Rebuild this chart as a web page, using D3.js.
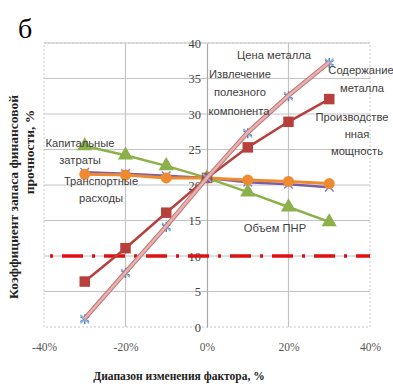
<!doctype html>
<html>
<head>
<meta charset="utf-8">
<style>
  body { margin: 0; background: #fff; }
  .lbl { font-family: "Liberation Sans", Arial, sans-serif; font-size: 11.2px; fill: #404040; }
</style>
<script src="https://cdn.jsdelivr.net/npm/d3@7"></script>
</head>
<body>
<svg width="393" height="387"></svg>
<script>
// values
var factors   = [-30, -20, -10, 0, 10, 20, 30];
var capex     = [25.5, 24.2, 22.7, 21, 19.0, 16.9, 14.8];
var transport = [21.5, 21.4, 21.0, 21, 20.7, 20.5, 20.2];
var volumePNR = [21.8, 21.6, 21.3, 21, 20.4, 20.1, 19.7];
var capacity  = [6.4, 11.1, 16.1, 21, 25.3, 28.9, 32.1];
var price     = [1.1, 7.6, 14.1, 21, 27.3, 32.5, 37.2];
var recovery  = [1.2, 7.7, 14.2, 21, 27.4, 32.6, 37.3];
var threshold = 10;
var xTicks = [-40, -20, 0, 20, 40];
var yTicks = [0, 5, 10, 15, 20, 25, 30, 35, 40];

var serif = "'Liberation Serif', 'Times New Roman', serif";

var svg = d3.select("svg");
var x = d3.scaleLinear().domain([-40, 40]).range([44, 370]);
var y = d3.scaleLinear().domain([0, 40]).range([327, 43]);

svg.append("text").attr("x", 18).attr("y", 38)
  .style("font-family", serif).style("font-size", "28px").text("б");

// grid
var grid = svg.append("g");
grid.selectAll(".h").data(yTicks.slice(1)).enter().append("line")
  .attr("x1", x(-40)).attr("x2", x(40))
  .attr("y1", function(d){ return y(d); }).attr("y2", function(d){ return y(d); })
  .attr("stroke", "#c4c4c4").attr("stroke-width", 1);
grid.selectAll(".v").data([-20, 20]).enter().append("line")
  .attr("x1", function(d){ return x(d); }).attr("x2", function(d){ return x(d); })
  .attr("y1", y(0)).attr("y2", y(40))
  .attr("stroke", "#c4c4c4").attr("stroke-width", 1.2);
grid.append("rect").attr("x", x(-40)).attr("y", y(40))
  .attr("width", x(40) - x(-40)).attr("height", y(0) - y(40))
  .attr("fill", "none").attr("stroke", "#c8c8c8").attr("stroke-dasharray", "2,2");

// axes
var xAxis = svg.append("g")
  .attr("transform", "translate(0," + y(0) + ")")
  .call(d3.axisBottom(x).tickValues(xTicks).tickSize(0).tickPadding(16)
    .tickFormat(function(d){ return d + "%"; }));
xAxis.select(".domain").remove();
xAxis.selectAll("text").style("font-family", serif).style("font-size", "11.5px").attr("fill", "#555");

var yAxis = svg.append("g")
  .attr("transform", "translate(" + x(0) + ",0)")
  .call(d3.axisLeft(y).tickValues(yTicks).tickSize(0).tickPadding(6));
yAxis.select(".domain").attr("stroke", "#a8a8a8").attr("stroke-width", 1.2);
yAxis.selectAll("text").style("font-family", serif).style("font-size", "12.5px").attr("fill", "#444");

// threshold line
svg.append("line").attr("x1", x(-40)).attr("x2", x(40))
  .attr("y1", y(threshold)).attr("y2", y(threshold))
  .attr("stroke", "#e01010").attr("stroke-width", 3.5)
  .attr("stroke-dasharray", "21,9,3,9").attr("stroke-dashoffset", 24);

var line = d3.line()
  .x(function(d, i){ return x(factors[i]); })
  .y(function(d){ return y(d); });

function series(vals, color, width) {
  svg.append("path").datum(vals).attr("d", line)
    .attr("fill", "none").attr("stroke", color).attr("stroke-width", width);
}
function markers(vals, sym, size, color, stroke) {
  svg.append("g").selectAll("path").data(vals).enter().append("path")
    .attr("transform", function(d, i){ return "translate(" + x(factors[i]) + "," + y(d) + ")"; })
    .attr("d", d3.symbol().type(sym).size(size))
    .attr("fill", stroke ? "none" : color)
    .attr("stroke", stroke ? color : "none")
    .attr("stroke-width", stroke ? 1.5 : 0);
}

series(volumePNR, "#7b5fa5", 2.5);
markers(volumePNR, d3.symbolX, 50, "#8e7cc3", true);
series(transport, "#f08a30", 3);
markers(transport, d3.symbolCircle, 95, "#f08a30");
series(capex, "#8cb04a", 2.5);
markers(capex, d3.symbolTriangle, 100, "#8cb04a");
series(capacity, "#b8403c", 2.5);
markers(capacity, d3.symbolSquare, 110, "#b8403c");
series(price, "#4f81bd", 2);
markers(price, d3.symbolAsterisk, 70, "#4f81bd", true);
markers(price, d3.symbolX, 50, "#8fb4e0", true);
series(recovery, "#c07676", 4.5);
series(recovery, "#e6b2b0", 2.5);

// labels
var labels = [
  ["Капитальные", 80, 147], ["затраты", 80, 164],
  ["Транспортные", 101, 185], ["расходы", 101, 202],
  ["Цена металла", 274, 59],
  ["Извлечение", 240, 78], ["полезного", 240, 96], ["компонента", 239, 115],
  ["Содержание", 361, 74], ["металла", 362, 92],
  ["Производстве", 352, 121], ["нная", 357, 138], ["мощность", 357, 155],
  ["Объем ПНР", 275, 232]
];
svg.selectAll(".lbl").data(labels).enter().append("text").attr("class", "lbl")
  .attr("x", function(d){ return d[1]; }).attr("y", function(d){ return d[2]; })
  .attr("text-anchor", "middle").text(function(d){ return d[0]; });

// axis titles
svg.append("text").attr("transform", "translate(18,197) rotate(-90)")
  .attr("text-anchor", "middle")
  .style("font-family", serif).style("font-weight", "bold").style("font-size", "13.5px")
  .attr("fill", "#222").text("Коэффициент запаса финансовой");
svg.append("text").attr("transform", "translate(34,152) rotate(-90)")
  .attr("text-anchor", "middle")
  .style("font-family", serif).style("font-weight", "bold").style("font-size", "13.5px")
  .attr("fill", "#222").text("прочности, %");
svg.append("text").attr("x", 179).attr("y", 380).attr("text-anchor", "middle")
  .style("font-family", serif).style("font-weight", "bold").style("font-size", "11.5px")
  .attr("fill", "#222").text("Диапазон изменения фактора, %");
</script>
</body>
</html>
